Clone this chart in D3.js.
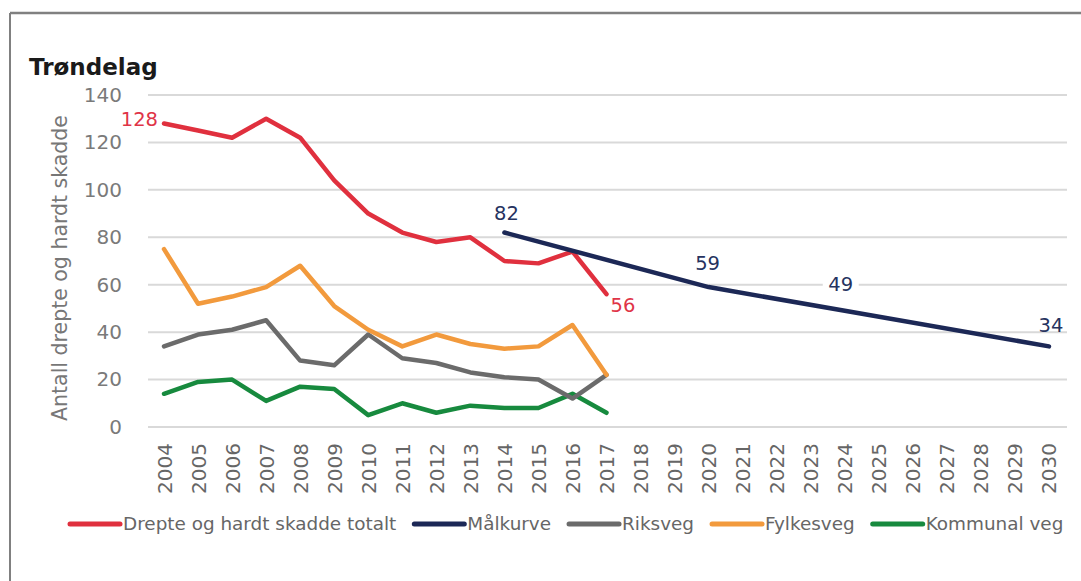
<!DOCTYPE html>
<html>
<head>
<meta charset="utf-8">
<script src="https://cdn.jsdelivr.net/npm/d3@7"></script>
<style>
  html, body { margin: 0; padding: 0; background: #fff; }
  svg { display: block; }
  text { font-family: 'DejaVu Sans', sans-serif; }
</style>
</head>
<body>
<svg id="chart"></svg>
<script>
const years = ['2004', '2005', '2006', '2007', '2008', '2009', '2010', '2011', '2012', '2013', '2014', '2015', '2016', '2017',
  '2018', '2019', '2020', '2021', '2022', '2023', '2024', '2025', '2026', '2027', '2028', '2029', '2030'];
const yTicks = [0, 20, 40, 60, 80, 100, 120, 140];

const histYears = ['2004', '2005', '2006', '2007', '2008', '2009', '2010', '2011', '2012', '2013', '2014', '2015', '2016', '2017'];
const totalt = [128, 125, 122, 130, 122, 104, 90, 82, 78, 80, 70, 69, 74, 56];
const riksveg = [34, 39, 41, 45, 28, 26, 39, 29, 27, 23, 21, 20, 12, 22];
const fylkesveg = [75, 52, 55, 59, 68, 51, 41, 34, 39, 35, 33, 34, 43, 22];
const kommunalveg = [14, 19, 20, 11, 17, 16, 5, 10, 6, 9, 8, 8, 14, 6];

const malYears = ['2014', '2020', '2024', '2030'];
const malkurve = [82, 59, 49, 34];

const seriesNames = ['Drepte og hardt skadde totalt', 'Målkurve', 'Riksveg', 'Fylkesveg', 'Kommunal veg'];
const seriesColors = ['#e0303e', '#1c2856', '#6b6b6b', '#f29a3d', '#178a3e'];

const svgWidth = 1081;
const svgHeight = 581;

const svg = d3.select('#chart')
  .attr('width', svgWidth)
  .attr('height', svgHeight);

// frame
svg.append('line').attr('x1', 10).attr('x2', svgWidth).attr('y1', 13).attr('y2', 13)
  .attr('stroke', '#808080').attr('stroke-width', 2.5);
svg.append('line').attr('x1', 10).attr('x2', 10).attr('y1', 13).attr('y2', svgHeight)
  .attr('stroke', '#808080').attr('stroke-width', 2);

const xScale = d3.scalePoint()
  .domain(years)
  .range([147, 1066])
  .padding(0.5);

const yScale = d3.scaleLinear()
  .domain([0, 140])
  .range([427, 95]);

// gridlines
svg.append('g')
  .selectAll('line')
  .data(yTicks)
  .enter().append('line')
  .attr('x1', 148)
  .attr('x2', 1067)
  .attr('y1', d => yScale(d))
  .attr('y2', d => yScale(d))
  .attr('stroke', '#d9d9d9')
  .attr('stroke-width', 2);

const yAxis = d3.axisLeft(yScale).tickValues(yTicks).tickSize(0).tickPadding(0);
svg.append('g')
  .attr('transform', 'translate(122, 0)')
  .call(yAxis)
  .call(g => g.select('.domain').remove())
  .selectAll('text')
  .attr('font-family', 'DejaVu Sans, sans-serif')
  .attr('font-size', 20)
  .attr('fill', '#7a7a7a');

const xAxis = d3.axisBottom(xScale).tickSize(0).tickPadding(0);
svg.append('g')
  .attr('transform', 'translate(0, 443)')
  .call(xAxis)
  .call(g => g.select('.domain').remove())
  .selectAll('text')
  .attr('font-family', 'DejaVu Sans, sans-serif')
  .attr('font-size', 20)
  .attr('fill', '#666')
  .attr('text-anchor', 'end')
  .attr('dy', '0.35em')
  .attr('transform', 'rotate(-90)')
  .attr('x', 0)
  .attr('y', 0);

// titles
svg.append('text')
  .attr('x', 29)
  .attr('y', 75)
  .attr('font-family', 'Liberation Sans, Arial, sans-serif')
  .attr('font-weight', 'bold')
  .attr('font-size', 23)
  .attr('fill', '#1a1a1a')
  .text('Trøndelag');

svg.append('text')
  .attr('transform', 'translate(67, 268) rotate(-90)')
  .attr('text-anchor', 'middle')
  .attr('font-size', 20.5)
  .attr('fill', '#777')
  .text('Antall drepte og hardt skadde');

const line = d3.line()
  .x(d => xScale(d[0]))
  .y(d => yScale(d[1]));

const drawSeries = (xs, values, color) => {
  svg.append('path')
    .datum(xs.map((x, i) => [x, values[i]]))
    .attr('fill', 'none')
    .attr('stroke', color)
    .attr('stroke-width', 4.5)
    .attr('stroke-linejoin', 'round')
    .attr('stroke-linecap', 'round')
    .attr('d', line);
};

drawSeries(histYears, kommunalveg, seriesColors[4]);
drawSeries(histYears, riksveg, seriesColors[2]);
drawSeries(histYears, fylkesveg, seriesColors[3]);
drawSeries(histYears, totalt, seriesColors[0]);

// value label for 49 sits on a white box that cuts the gridline
const lbl49x = xScale('2024') - 4;
const lbl49y = yScale(49) - 20;
svg.append('rect')
  .attr('x', lbl49x - 18).attr('y', lbl49y - 16)
  .attr('width', 36).attr('height', 20)
  .attr('fill', '#fff');

drawSeries(malYears, malkurve, seriesColors[1]);

// value labels
const labelFont = 19.5;
svg.append('text')
  .attr('x', xScale('2004') - 6).attr('y', yScale(128) + 3)
  .attr('text-anchor', 'end').attr('font-size', labelFont).attr('fill', '#e03447')
  .text(totalt[0]);
svg.append('text')
  .attr('x', xScale('2017') + 4).attr('y', yScale(56) + 18)
  .attr('text-anchor', 'start').attr('font-size', labelFont).attr('fill', '#e03447')
  .text(totalt[totalt.length - 1]);

const malOffsets = [[2, -13], [-1, -17], [-4, -20], [2, -14]];
malYears.forEach((yr, i) => {
  svg.append('text')
    .attr('x', xScale(yr) + malOffsets[i][0])
    .attr('y', yScale(malkurve[i]) + malOffsets[i][1])
    .attr('text-anchor', 'middle')
    .attr('font-size', labelFont)
    .attr('fill', '#26335f')
    .text(malkurve[i]);
});

// legend
const legend = svg.append('g').attr('transform', 'translate(70, 524)');
let lx = 0;
seriesNames.forEach((name, i) => {
  legend.append('line')
    .attr('x1', lx).attr('x2', lx + 50)
    .attr('y1', 0).attr('y2', 0)
    .attr('stroke', seriesColors[i])
    .attr('stroke-width', 5)
    .attr('stroke-linecap', 'round');
  const t = legend.append('text')
    .attr('x', lx + 53)
    .attr('y', 6)
    .attr('font-size', 18.4)
    .attr('fill', '#666')
    .text(name);
  lx += 53 + t.node().getComputedTextLength() + 18;
});
</script>
</body>
</html>
